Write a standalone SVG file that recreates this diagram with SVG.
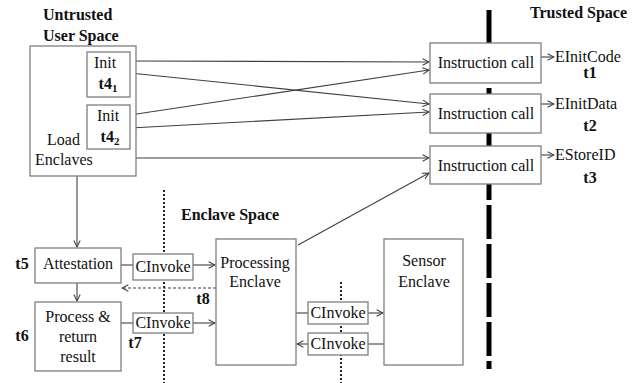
<svg xmlns="http://www.w3.org/2000/svg" width="644" height="383" viewBox="0 0 644 383">
<defs>
<marker id="ah" viewBox="0 0 10 10" refX="9" refY="5" markerWidth="8" markerHeight="8" markerUnits="userSpaceOnUse" orient="auto">
<path d="M1,1 L9,5 L1,9" fill="none" stroke="#404040" stroke-width="1.3"/>
</marker>
</defs>
<rect width="644" height="383" fill="#fff"/>

<g id="labels" font-family="Liberation Serif" font-size="16" font-weight="bold" fill="#111">
<text x="43" y="20">Untrusted</text>
<text x="43" y="41">User Space</text>
<text x="530" y="18">Trusted Space</text>
<text x="181" y="220">Enclave Space</text>
</g>

<g id="boundaries" fill="none">
<line x1="489" y1="10" x2="489" y2="369" stroke="#000" stroke-width="5" stroke-dasharray="34,5"/>
<line x1="164" y1="190" x2="164" y2="383" stroke="#222" stroke-width="2" stroke-dasharray="2,2"/>
<line x1="341" y1="282" x2="341" y2="383" stroke="#222" stroke-width="2" stroke-dasharray="2,2"/>
</g>

<g id="connectors" fill="none" stroke="#404040" stroke-width="1.1">
<line x1="130" y1="61" x2="429" y2="62" marker-end="url(#ah)"/>
<line x1="130" y1="73" x2="429" y2="104" marker-end="url(#ah)"/>
<line x1="130" y1="115" x2="429" y2="70" marker-end="url(#ah)"/>
<line x1="130" y1="128" x2="429" y2="112" marker-end="url(#ah)"/>
<line x1="136" y1="158" x2="429" y2="158" marker-end="url(#ah)"/>
<line x1="298" y1="245" x2="429" y2="173" marker-end="url(#ah)"/>
<line x1="541" y1="57" x2="554" y2="57" marker-end="url(#ah)"/>
<line x1="541" y1="104" x2="554" y2="104" marker-end="url(#ah)"/>
<line x1="541" y1="155" x2="554" y2="155" marker-end="url(#ah)"/>
<line x1="77" y1="176" x2="77" y2="247" marker-end="url(#ah)"/>
<line x1="77" y1="283" x2="77" y2="301" marker-end="url(#ah)"/>
<line x1="121" y1="265" x2="133" y2="265"/>
<line x1="193" y1="265" x2="215" y2="265" marker-end="url(#ah)"/>
<line x1="216" y1="288" x2="122" y2="288" stroke-dasharray="3,2" marker-end="url(#ah)"/>
<line x1="121" y1="323" x2="133" y2="323"/>
<line x1="193" y1="323" x2="215" y2="323" marker-end="url(#ah)"/>
<line x1="296" y1="313" x2="308" y2="313"/>
<line x1="368" y1="313" x2="383" y2="313" marker-end="url(#ah)"/>
<line x1="384" y1="344" x2="368" y2="344"/>
<line x1="308" y1="344" x2="297" y2="344" marker-end="url(#ah)"/>
</g>

<g font-family="Liberation Serif" font-size="16" fill="#111">
<g id="load-enclaves">
<rect x="30" y="46" width="106" height="130" fill="#fff" stroke="#7f7f7f" stroke-width="1.3"/>
<text x="47" y="145">Load</text>
<text x="35" y="165">Enclaves</text>
</g>
<g id="init1" text-anchor="middle">
<rect x="87" y="52" width="43" height="45" fill="#fff" stroke="#7f7f7f" stroke-width="1.3"/>
<text x="105" y="68">Init</text>
<text x="108" y="89" font-weight="bold">t4<tspan font-size="11" dy="3">1</tspan></text>
</g>
<g id="init2" text-anchor="middle">
<rect x="87" y="105" width="43" height="44" fill="#fff" stroke="#7f7f7f" stroke-width="1.3"/>
<text x="108" y="121">Init</text>
<text x="110" y="142" font-weight="bold">t4<tspan font-size="11" dy="3">2</tspan></text>
</g>

<g id="icall1" text-anchor="middle">
<rect x="430" y="43" width="111" height="40" fill="#fff" stroke="#7f7f7f" stroke-width="1.3"/>
<text x="486" y="68">Instruction call</text>
</g>
<g id="icall2" text-anchor="middle">
<rect x="430" y="94" width="111" height="39" fill="#fff" stroke="#7f7f7f" stroke-width="1.3"/>
<text x="486" y="119">Instruction call</text>
</g>
<g id="icall3" text-anchor="middle">
<rect x="430" y="146" width="111" height="38" fill="#fff" stroke="#7f7f7f" stroke-width="1.3"/>
<text x="486" y="171">Instruction call</text>
</g>

<g id="einitcode">
<text x="555" y="62">EInitCode</text>
<text x="590" y="78" font-weight="bold" text-anchor="middle">t1</text>
</g>
<g id="einitdata">
<text x="555" y="109">EInitData</text>
<text x="590" y="131" font-weight="bold" text-anchor="middle">t2</text>
</g>
<g id="estoreid">
<text x="555" y="160">EStoreID</text>
<text x="590" y="183" font-weight="bold" text-anchor="middle">t3</text>
</g>

<g id="attestation" text-anchor="middle">
<rect x="35" y="248" width="86" height="35" fill="#fff" stroke="#7f7f7f" stroke-width="1.3"/>
<text x="78" y="269">Attestation</text>
<text x="22" y="269" font-weight="bold">t5</text>
</g>
<g id="process" text-anchor="middle">
<rect x="35" y="302" width="86" height="69" fill="#fff" stroke="#7f7f7f" stroke-width="1.3"/>
<text x="78" y="322">Process &amp;</text>
<text x="78" y="342">return</text>
<text x="78" y="362">result</text>
<text x="22" y="341" font-weight="bold">t6</text>
</g>
<g id="cinvoke1" text-anchor="middle">
<rect x="133" y="254" width="60" height="26" fill="#fff" stroke="#7f7f7f" stroke-width="1.3"/>
<text x="163" y="272">CInvoke</text>
</g>
<g id="cinvoke2" text-anchor="middle">
<rect x="133" y="313" width="60" height="20" fill="#fff" stroke="#7f7f7f" stroke-width="1.3"/>
<text x="163" y="328">CInvoke</text>
<text x="135" y="348" font-weight="bold">t7</text>
</g>
<text x="203" y="304" font-weight="bold" text-anchor="middle">t8</text>

<g id="processing-enclave" text-anchor="middle">
<rect x="216" y="239" width="80" height="126" fill="#fff" stroke="#7f7f7f" stroke-width="1.3"/>
<text x="255" y="268">Processing</text>
<text x="255" y="287">Enclave</text>
</g>
<g id="sensor-enclave" text-anchor="middle">
<rect x="384" y="239" width="79" height="126" fill="#fff" stroke="#7f7f7f" stroke-width="1.3"/>
<text x="424" y="266">Sensor</text>
<text x="424" y="287">Enclave</text>
</g>
<g id="cinvoke3" text-anchor="middle">
<rect x="308" y="302" width="60" height="22" fill="#fff" stroke="#7f7f7f" stroke-width="1.3"/>
<text x="338" y="318">CInvoke</text>
</g>
<g id="cinvoke4" text-anchor="middle">
<rect x="308" y="333" width="60" height="22" fill="#fff" stroke="#7f7f7f" stroke-width="1.3"/>
<text x="338" y="349">CInvoke</text>
</g>
</g>
</svg>
